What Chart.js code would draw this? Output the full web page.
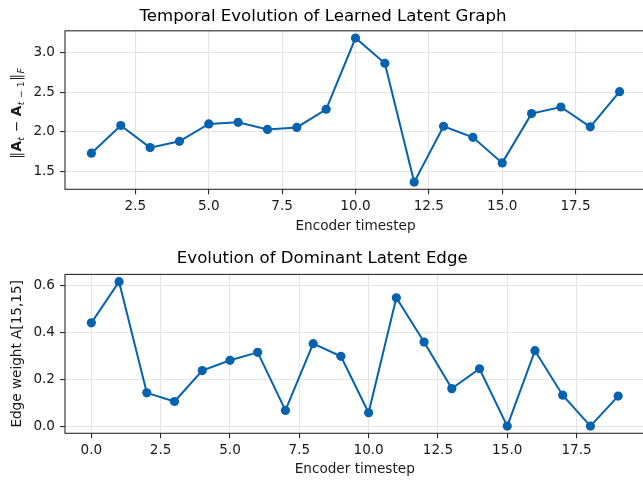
<!DOCTYPE html>
<html>
<head>
<meta charset="utf-8">
<script src="https://cdn.jsdelivr.net/npm/chart.js@4/dist/chart.umd.min.js"></script>
<style>
  html, body { margin: 0; padding: 0; background: #fff; overflow: hidden; width: 643px; height: 482px; }
  #wrap { position: relative; width: 700px; height: 482px; }
  canvas { position: absolute; left: 0; }
  #normChart { top: 0; }
  #edgeChart { top: 241px; }
</style>
</head>
<body>
<div id="wrap">
  <canvas id="normChart" width="700" height="241"></canvas>
  <canvas id="edgeChart" width="700" height="241"></canvas>
</div>
<script>
// Frobenius norm of the change between consecutive latent adjacency matrices
const normSteps  = [1, 2, 3, 4, 5, 6, 7, 8, 9, 10, 11, 12, 13, 14, 15, 16, 17, 18, 19];
const normValues = [1.73, 2.08, 1.80, 1.88, 2.10, 2.12, 2.03, 2.055, 2.285, 3.186,
                    2.867, 1.364, 2.07, 1.93, 1.607, 2.23, 2.314, 2.063, 2.507];

// Weight of the dominant latent edge A[15,15] at every encoder timestep
const edgeSteps  = [0, 1, 2, 3, 4, 5, 6, 7, 8, 9, 10, 11, 12, 13, 14, 15, 16, 17, 18, 19];
const edgeValues = [0.441, 0.617, 0.142, 0.105, 0.237, 0.281, 0.315, 0.067, 0.352, 0.298,
                    0.057, 0.548, 0.359, 0.160, 0.245, 0.0, 0.322, 0.132, 0.0, 0.128];

// Tick positions
const normXTicks = [2.5, 5.0, 7.5, 10.0, 12.5, 15.0, 17.5];
const normYTicks = [1.5, 2.0, 2.5, 3.0];
const edgeXTicks = [0.0, 2.5, 5.0, 7.5, 10.0, 12.5, 15.0, 17.5];
const edgeYTicks = [0.0, 0.2, 0.4, 0.6];

const LINE = '#0562ae';
const SPINE = '#2b2b2b';
const GRID = '#e4e4e4';
const TEXT = '#1a1a1a';
const FONT = "'DejaVu Sans', sans-serif";
const TICK_SIZE = 13.6;

Chart.defaults.font.family = FONT;
Chart.defaults.font.size = TICK_SIZE;
Chart.defaults.color = TEXT;

// 5% data margins on each side of an axis
function padded(values) {
  const lo = Math.min(...values), hi = Math.max(...values);
  const p = (hi - lo) * 0.05;
  return { min: lo - p, max: hi + p };
}

// Spines around the plotting area
const frame = {
  id: 'frame',
  afterDraw(chart) {
    const { ctx, chartArea: a } = chart;
    ctx.save();
    ctx.strokeStyle = SPINE;
    ctx.lineWidth = 1.1;
    ctx.strokeRect(a.left, a.top, a.right - a.left, a.bottom - a.top);
    ctx.restore();
  }
};

// Rotated y label with bold matrices and subscripts: ‖A_t − A_{t−1}‖_F
const normLabelParts = [
  { t: '‖' },
  { t: 'A', bold: true },
  { t: 't', sub: true, italic: true },
  { t: ' − ' },
  { t: 'A', bold: true },
  { t: 't', sub: true, italic: true },
  { t: ' − 1', sub: true },
  { t: '‖' },
  { t: 'F', sub: true, italic: true }
];
const richYLabel = {
  id: 'richYLabel',
  afterDraw(chart) {
    const { ctx, chartArea: a } = chart;
    const fontFor = p => (p.italic ? 'italic ' : '') + (p.bold ? 'bold ' : '') +
      (p.sub ? 9.4 : TICK_SIZE) + 'px ' + FONT;
    ctx.save();
    ctx.translate(20.5, (a.top + a.bottom) / 2 + 5);
    ctx.rotate(-Math.PI / 2);
    let total = 0;
    normLabelParts.forEach(p => { ctx.font = fontFor(p); p.w = ctx.measureText(p.t).width; total += p.w; });
    let x = -total / 2;
    ctx.textBaseline = 'alphabetic';
    ctx.textAlign = 'left';
    ctx.fillStyle = TEXT;
    normLabelParts.forEach(p => {
      ctx.font = fontFor(p);
      ctx.fillText(p.t, x, p.sub ? 3.5 : 0);
      x += p.w + (p.sub ? 0.6 : 0.3);
    });
    ctx.restore();
  }
};

function buildChart(id, opts) {
  const xr = padded(opts.steps);
  const yr = padded(opts.values);
  return new Chart(document.getElementById(id), {
    type: 'line',
    data: {
      datasets: [{
        data: opts.steps.map((s, i) => ({ x: s, y: opts.values[i] })),
        borderColor: LINE,
        backgroundColor: LINE,
        borderWidth: 2,
        pointRadius: 4.6,
        pointHoverRadius: 4.6,
        pointBorderWidth: 0,
        pointBackgroundColor: LINE,
        tension: 0,
        clip: false
      }]
    },
    options: {
      responsive: false,
      animation: false,
      devicePixelRatio: 1,
      events: [],
      layout: { padding: { left: 0, top: 0, bottom: 0, right: opts.rightPad } },
      plugins: {
        legend: { display: false },
        tooltip: { enabled: false },
        title: {
          display: true,
          text: opts.title,
          color: '#000',
          font: { size: 16.6, weight: 'normal', family: FONT, lineHeight: 1.2 },
          padding: { top: opts.titleTop, bottom: opts.titleBottom }
        }
      },
      scales: {
        x: {
          type: 'linear',
          min: xr.min,
          max: xr.max,
          afterBuildTicks: s => { s.ticks = opts.xTicks.map(v => ({ value: v })); },
          afterFit: s => { s.height = opts.xHeight; },
          ticks: { callback: v => Number(v).toFixed(1), padding: 4, maxRotation: 0, autoSkip: false, color: TEXT },
          grid: { color: GRID, lineWidth: 1.1, tickLength: 5, tickColor: SPINE, tickWidth: 1.1 },
          border: { display: false },
          title: {
            display: true,
            text: 'Encoder timestep',
            color: TEXT,
            font: { size: TICK_SIZE, lineHeight: 1.2 },
            padding: { top: 0, bottom: opts.xTitleBottom }
          }
        },
        y: {
          type: 'linear',
          min: yr.min,
          max: yr.max,
          afterBuildTicks: s => { s.ticks = opts.yTicks.map(v => ({ value: v })); },
          afterFit: s => { s.width = 65; },
          ticks: { callback: v => Number(v).toFixed(1), padding: 5, color: TEXT },
          grid: { color: GRID, lineWidth: 1.1, tickLength: 5, tickColor: SPINE, tickWidth: 1.1 },
          border: { display: false },
          title: opts.yTitle ? {
            display: true,
            text: opts.yTitle,
            color: TEXT,
            font: { size: TICK_SIZE, lineHeight: 1.2 },
            padding: { top: 9.5, bottom: 0 }
          } : { display: false }
        }
      }
    },
    plugins: opts.extraPlugins
  });
}

buildChart('normChart', {
  steps: normSteps,
  values: normValues,
  xTicks: normXTicks,
  yTicks: normYTicks,
  title: 'Temporal Evolution of Learned Latent Graph',
  titleTop: 6.6,
  titleBottom: 4.3,
  xHeight: 51.7,
  xTitleBottom: 6.8,
  rightPad: 54,
  yTitle: null,
  extraPlugins: [frame, richYLabel]
});

buildChart('edgeChart', {
  steps: edgeSteps,
  values: edgeValues,
  xTicks: edgeXTicks,
  yTicks: edgeYTicks,
  title: 'Evolution of Dominant Latent Edge',
  titleTop: 8.1,
  titleBottom: 5.4,
  xHeight: 48.7,
  xTitleBottom: 4.0,
  rightPad: 55.5,
  yTitle: 'Edge weight A[15,15]',
  extraPlugins: [frame]
});
</script>
</body>
</html>
